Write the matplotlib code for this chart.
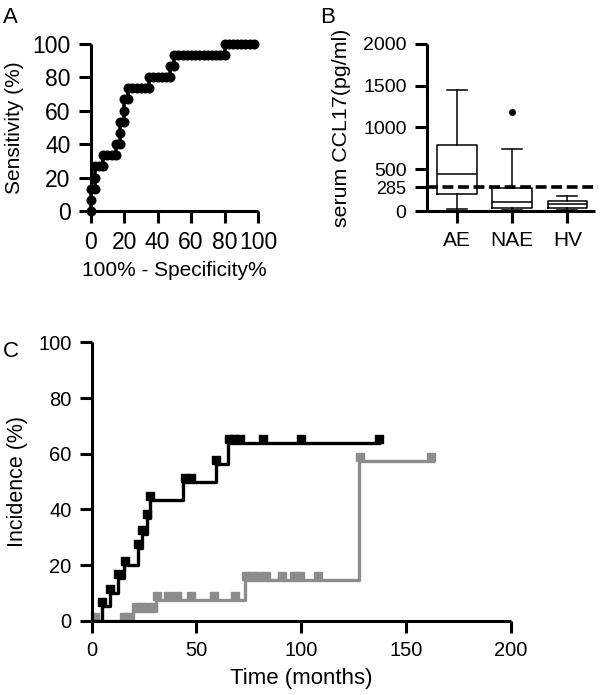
import numpy as np
import matplotlib.pyplot as plt
from matplotlib.path import Path

plt.rcParams['font.family'] = ['Liberation Sans', 'DejaVu Sans']

### panel A: ROC curve points (100% - specificity, sensitivity)
roc_fpr = [0, 0, 0, 2.5, 2.5, 2.5, 5, 7.5, 7.5, 10, 12.5, 15, 15, 17.5, 17.5, 17.5,
           20, 20, 20, 22.5, 22.5, 25, 27.5, 30, 32.5, 35, 35, 37.5, 40, 42.5, 45,
           47.5, 47.5, 50, 50, 52.5, 55, 57.5, 60, 62.5, 65, 67.5, 70, 72.5, 75, 77.5,
           80, 80, 82.5, 85, 87.5, 90, 92.5, 95, 97.5]
roc_tpr = [0, 6.7, 13.3, 13.3, 20, 26.7, 26.7, 26.7, 33.3, 33.3, 33.3, 33.3, 40, 40, 46.7, 53.3,
           53.3, 60, 66.7, 66.7, 73.3, 73.3, 73.3, 73.3, 73.3, 73.3, 80, 80, 80, 80, 80,
           80, 86.7, 86.7, 93.3, 93.3, 93.3, 93.3, 93.3, 93.3, 93.3, 93.3, 93.3, 93.3, 93.3, 93.3,
           93.3, 100, 100, 100, 100, 100, 100, 100, 100]

### panel B: box plot summaries
groups = ["AE", "NAE", "HV"]
q1 = [200, 30, 30]
med = [440, 110, 80]
q3 = [790, 275, 120]
whis_lo = [25, 10, 10]
whis_hi = [1450, 740, 185]
outliers = [[], [1180], []]
cutoff = 285

### panel C: cumulative incidence
black_t = [0, 4.8, 8.8, 12.8, 15.5, 22.2, 23.8, 26.3, 28, 43.5, 59.2, 65, 137]
black_y = [0, 5.4, 10.1, 15.5, 20.2, 26.2, 31, 36.9, 43.5, 50, 56.5, 63.7, 63.7]
black_cens_t = [4.8, 8.8, 12.8, 15.8, 22.2, 24, 26.4, 28, 44.5, 47.5, 59.3, 65.5, 68, 71, 82, 100, 137]
black_cens_y = [5.4, 10.1, 15.5, 20.2, 26.2, 31, 36.9, 43.5, 50, 50, 56.5, 63.7, 63.7, 63.7, 63.7, 63.7, 63.7]

grey_t = [0, 19.5, 30.5, 73, 127.5, 163]
grey_y = [0, 3.6, 7.6, 14.8, 57.5, 57.5]
grey_cens_t = [1.5, 15.5, 18, 21, 24, 27, 29.5, 31, 36.5, 40.5, 47.5, 58.5, 68.5,
               73.5, 76.5, 80, 83, 91, 96.5, 99.5, 108, 128, 162]
grey_cens_y = [0, 0, 0, 3.6, 3.6, 3.6, 3.6, 7.6, 7.6, 7.6, 7.6, 7.6, 7.6,
               14.8, 14.8, 14.8, 14.8, 14.8, 14.8, 14.8, 14.8, 57.5, 57.5]

spine_w = 2.2

def style_axes(ax, tick_fs):
    for s in ["top", "right"]:
        ax.spines[s].set_visible(False)
    for s in ["left", "bottom"]:
        ax.spines[s].set_linewidth(spine_w)
        ax.spines[s].set_capstyle("butt")
    ax.tick_params(direction="out", length=8.5, width=spine_w, labelsize=tick_fs)
    ax.tick_params(axis="x", pad=6)
    ax.tick_params(axis="y", pad=6)


fig = plt.figure(figsize=(6, 6.95), dpi=100)

### A
axA = fig.add_axes([0.151, 0.6964, 0.279, 0.2407])
axA.plot(roc_fpr, roc_tpr, color="black", lw=2.6, marker="o", ms=6.2, clip_on=False, zorder=3)
axA.set_xlim(0, 100)
axA.set_ylim(0, 100)
axA.set_xticks([0, 20, 40, 60, 80, 100])
axA.set_yticks([0, 20, 40, 60, 80, 100])
style_axes(axA, 16.5)
axA.set_xlabel("100% - Specificity%", fontsize=15, labelpad=5)
axA.set_ylabel("Sensitivity (%)", fontsize=15, labelpad=6)
fig.text(0.005, 0.99, "A", fontsize=16, va="top", ha="left")

### B
axB = fig.add_axes([0.7112, 0.6964, 0.2805, 0.2407])
stats = []
for i in range(len(groups)):
    stats.append(dict(label=groups[i], med=med[i], q1=q1[i], q3=q3[i],
                      whislo=whis_lo[i], whishi=whis_hi[i], fliers=outliers[i]))
pos = np.arange(1, len(groups) + 1)
axB.bxp(stats, positions=pos, widths=0.72, capwidths=0.36, showfliers=True,
        boxprops=dict(color="black", lw=1.1),
        medianprops=dict(color="black", lw=1.1),
        whiskerprops=dict(color="black", lw=1.1),
        capprops=dict(color="black", lw=1.1),
        flierprops=dict(marker="o", markerfacecolor="black", markeredgecolor="black", markersize=4))
axB.plot([0.45, 3.55], [cutoff, cutoff], color="black", lw=2.6, ls=(0, (3, 1.3)), clip_on=False, zorder=4)
axB.set_xlim(0.45, 3.5)
axB.set_ylim(0, 2000)
axB.set_yticks([0, cutoff, 500, 1000, 1500, 2000])
axB.set_xticks(pos)
axB.set_xticklabels(groups)
style_axes(axB, 14)
for lab in axB.get_xticklabels():
    lab.set_fontsize(15)
axB.get_yticklabels()[1].set_fontsize(13)
axB.set_ylabel("serum CCL17(pg/ml)", fontsize=15.4, labelpad=9)
fig.text(0.533, 0.99, "B", fontsize=16, va="top", ha="left")

### C
# square censor mark sitting on top of the line
sq = Path([(-1, 0), (1, 0), (1, 2), (-1, 2), (-1, 0)])
axC = fig.add_axes([0.1528, 0.1069, 0.6983, 0.4003])
axC.step(grey_t, grey_y, where="post", color="#8c8c8c", lw=2.4, zorder=2)
axC.plot(grey_cens_t, grey_cens_y, ls="none", marker=sq, ms=11, color="#8c8c8c", clip_on=False, zorder=2)
axC.step(black_t, black_y, where="post", color="black", lw=2.4, zorder=3)
axC.plot(black_cens_t, black_cens_y, ls="none", marker=sq, ms=11, color="black", clip_on=False, zorder=3)
axC.set_xlim(0, 200)
axC.set_ylim(0, 100)
axC.set_xticks([0, 50, 100, 150, 200])
axC.set_yticks([0, 20, 40, 60, 80, 100])
style_axes(axC, 14.5)
axC.set_xlabel("Time (months)", fontsize=16, labelpad=6)
axC.set_ylabel("Incidence (%)", fontsize=15.5, labelpad=7)
fig.text(0.005, 0.51, "C", fontsize=16, va="top", ha="left")

fig.savefig("out.png", dpi=100)
